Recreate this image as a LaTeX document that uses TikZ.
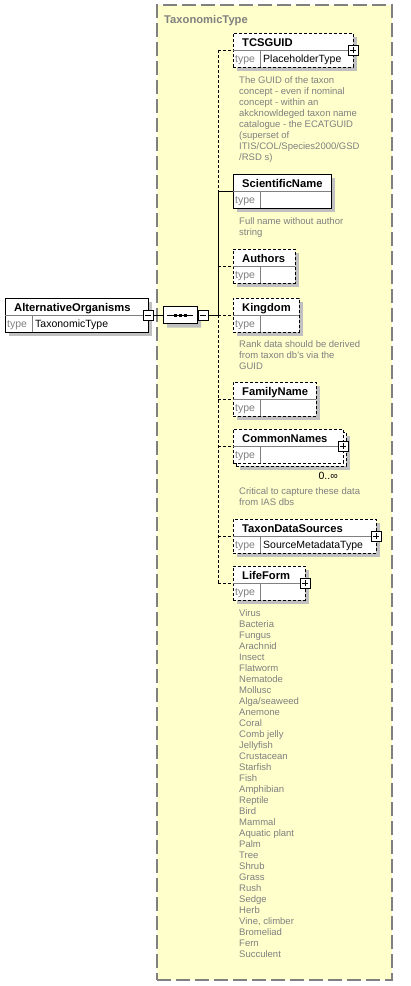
\documentclass[tikz,border=0pt]{standalone}
\usepackage{fontspec}
\setmainfont{Liberation Sans}
\usetikzlibrary{shadows,shapes.misc,calc}
\definecolor{ybg}{HTML}{FFFFCC}
\definecolor{gtxt}{HTML}{808080}
\definecolor{shd}{HTML}{C0C0C0}
\definecolor{inl}{HTML}{808080}
\tikzset{
  ebox/.style={draw=black, fill=white, line width=1pt, inner sep=0pt, outer sep=0pt, minimum height=34pt},
  sh/.style={drop shadow={shadow xshift=4pt, shadow yshift=-4pt, fill=shd, opacity=1}},
  dl/.style={dash pattern=on 3pt off 2pt},
  inline/.style={draw=inl, line width=1pt},
  ttl/.style={inner sep=0pt, font=\fontsize{11.2}{13}\selectfont\bfseries},
  lbl/.style={inner sep=0pt, text=gtxt, font=\fontsize{10.5}{12}\selectfont},
  val/.style={inner sep=0pt, text=black, font=\fontsize{10.5}{12}\selectfont},
  dsc/.style={inner sep=0pt, text=gtxt, font=\fontsize{9.5}{11}\selectfont},
  pm/.style={draw=black, fill=white, line width=0.8pt, minimum size=10pt, inner sep=0pt, outer sep=0pt},
  conn/.style={line width=1pt},
  tbox/.style={draw=gtxt, fill=ybg, line width=1.4pt, dash pattern=on 14pt off 5pt, inner sep=0pt, outer sep=0pt},
}
\newcommand\elbox[6]{%
  \node[ebox,#4,anchor=north west,minimum width=#3pt] (#1) at (#2) {};
  \draw[inline] (#1.west) -- (#1.east);
  \draw[inline] ([xshift=27pt]#1.west) -- ([xshift=27pt]#1.south west);
  \node[ttl,anchor=base west] (#1-t) at ([shift={(9pt,-13.5pt)}]#1.north west) {#5};
  \node[lbl,anchor=base west] (#1-l) at ([shift={(2pt,-12.5pt)}]#1.west) {type};
  \node[val,anchor=base west] (#1-v) at ([shift={(30pt,-12.5pt)}]#1.west) {#6};
}
\newcommand\pmbox[3]{% name, anchor node, plus?
  \node[pm] (#1) at (#2) {};
  \draw[line width=0.8pt] ([xshift=-3pt]#1.center) -- ([xshift=3pt]#1.center);
  \ifx#3p\draw[line width=0.8pt] ([yshift=-3pt]#1.center) -- ([yshift=3pt]#1.center);\fi
}
\newcommand\desclines[4]{% node, prefix, first offset, lines
  \foreach \t [count=\i from 0] in {#4}
    \node[dsc,anchor=base west] (#2-\i) at ([shift={(6pt,{-#3pt-11pt*\i})}]#1.south west) {\t};
}
\begin{document}
\begin{tikzpicture}[x=1pt,y=-1pt]
\useasboundingbox (0,0) rectangle (410,986);
% complex type area
\node[tbox,anchor=north west,minimum width=235pt,minimum height=975pt] (ttype) at (157,5) {};
\node[inner sep=0pt,anchor=base west,text=gtxt,font=\fontsize{11.2}{13}\selectfont\bfseries] (ttype-t) at (164,23) {TaxonomicType};

% root element
\elbox{ao}{5,298}{143}{sh}{AlternativeOrganisms}{TaxonomicType}
\pmbox{aom}{ao.east}{m}

% sequence compositor
\node[chamfered rectangle, chamfered rectangle xsep=5pt, chamfered rectangle ysep=5pt,
      draw=black, fill=white, line width=1pt, inner sep=0pt, outer sep=0pt,
      minimum width=34pt, minimum height=17pt, sh] (seq) at (180,315) {};
\draw[line width=1pt] ([xshift=4pt]seq.west) -- ([xshift=-4pt]seq.east);
\foreach \dx [count=\k] in {-5,0,5}
  \fill ([xshift=\dx pt]seq.center) ++(-1.5pt,-1.5pt) rectangle ++(3pt,3pt);
\node[pm,anchor=west] (seqm) at ([xshift=1pt]seq.east) {};
\draw[line width=0.8pt] ([xshift=-3pt]seqm.center) -- ([xshift=3pt]seqm.center);
\draw[conn] (aom.east) -- (seq.west);

% child elements
\elbox{tcs}{233,33}{120}{sh,dl}{TCSGUID}{PlaceholderType}
\pmbox{tcsp}{tcs.east}{p}
\desclines{tcs}{tcsd}{16}{The GUID of the taxon,concept - even if nominal,concept - within an,akcknowldeged taxon name,catalogue - the ECATGUID,{(superset of},ITIS/COL/Species2000/GSD,{/RSD s)}}

\elbox{sci}{233,174}{98}{sh}{ScientificName}{}
\desclines{sci}{scid}{16}{Full name without author,string}

\elbox{aut}{233,249}{62}{sh,dl}{Authors}{}

\elbox{king}{233,298}{66}{sh,dl}{Kingdom}{}
\desclines{king}{kingd}{15}{Rank data should be derived,from taxon db{\textquotesingle}s via the,GUID}

\elbox{fam}{233,382}{83}{sh,dl}{FamilyName}{}

\node[ebox,sh,dl,anchor=north west,minimum width=110pt] (cnb) at (236,432) {};
\elbox{cn}{233,429}{110}{dl}{CommonNames}{}
\pmbox{cnp}{cn.east}{p}
\node[val,anchor=base east] (cn-occ) at (338,479) {0..∞};
\desclines{cn}{cnd}{31}{Critical to capture these data,from IAS dbs}

\elbox{tds}{233,519}{143}{sh,dl}{TaxonDataSources}{SourceMetadataType}
\pmbox{tdsp}{tds.east}{p}

\elbox{life}{233,566}{72}{sh,dl}{LifeForm}{}
\pmbox{lifep}{life.east}{p}
\desclines{life}{lifed}{16}{Virus,Bacteria,Fungus,Arachnid,Insect,Flatworm,Nematode,Mollusc,Alga/seaweed,Anemone,Coral,Comb jelly,Jellyfish,Crustacean,Starfish,Fish,Amphibian,Reptile,Bird,Mammal,Aquatic plant,Palm,Tree,Shrub,Grass,Rush,Sedge,Herb,{Vine, climber},Bromeliad,Fern,Succulent}

% spine and connectors
\coordinate (spx) at (218,0);
\foreach \n in {tcs,sci,aut,king,fam,cn,tds,life}
  \coordinate (sp-\n) at (\n.west -| spx);
\draw[conn] (seqm.east) -- (sp-king);
\draw[conn,dl] (sp-tcs) -- (sp-sci);
\draw[conn] (sp-sci) -- (sp-king);
\draw[conn,dl] (sp-king) -- (sp-life);
\draw[conn,dl] (sp-tcs) -- (tcs.west);
\draw[conn] (sp-sci) -- (sci.west);
\draw[conn,dl] (sp-aut) -- (aut.west);
\draw[conn,dl] (sp-king) -- (king.west);
\draw[conn,dl] (sp-fam) -- (fam.west);
\draw[conn,dl] (sp-cn) -- (cn.west);
\draw[conn,dl] (sp-tds) -- (tds.west);
\draw[conn,dl] (sp-life) -- (life.west);
\end{tikzpicture}
\end{document}
